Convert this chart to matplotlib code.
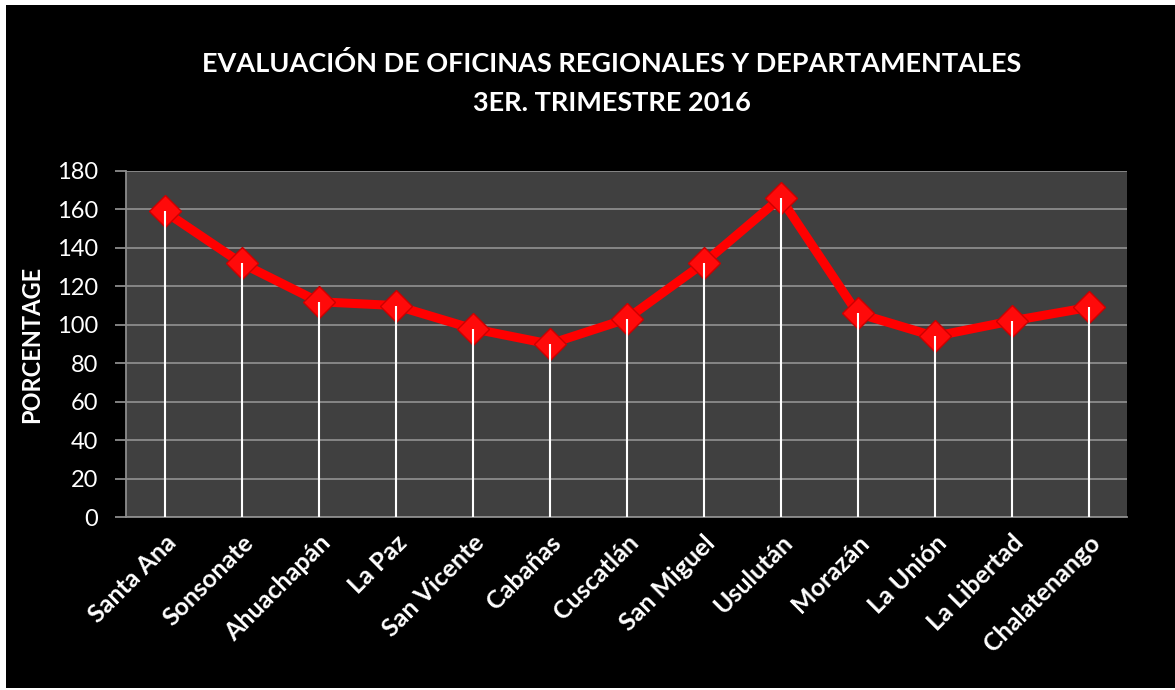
import matplotlib.pyplot as plt
from matplotlib.patches import Rectangle

oficinas = ["Santa Ana", "Sonsonate", "Ahuachapán", "La Paz", "San Vicente", "Cabañas",
            "Cuscatlán", "San Miguel", "Usulután", "Morazán", "La Unión", "La Libertad",
            "Chalatenango"]
porcentaje = [159, 132, 112, 110, 98, 90, 103, 132, 166, 106, 94, 102, 109]
yticks = [0, 20, 40, 60, 80, 100, 120, 140, 160, 180]

plt.rcParams['font.family'] = ['Lato', 'DejaVu Sans']

fig = plt.figure(figsize=(11.75, 6.9), dpi=100, facecolor="white")
# black chart area inside a thin white frame
fig.patches.append(Rectangle((6 / 1175, 2 / 690), 1169 / 1175, 683 / 690,
                             transform=fig.transFigure, facecolor="black",
                             edgecolor="none", zorder=-10))

ax = fig.add_axes([126 / 1175, 173 / 690, 1001 / 1175, 346 / 690])
ax.set_facecolor("#404040")

x = list(range(len(oficinas)))
ax.vlines(x, 0, porcentaje, color="white", linewidth=1.5, zorder=4)
ax.plot(x, porcentaje, color="#ff0000", linewidth=6.5, marker="D", markersize=16,
        markerfacecolor="#ff0a0a", markeredgecolor="#cc0000", markeredgewidth=1,
        zorder=3)

ax.set_xlim(-0.5, len(oficinas) - 0.5)
ax.set_ylim(0, 180)
ax.set_yticks(yticks)
ax.yaxis.grid(True, color="#8c8c8c", linewidth=1.3)
ax.set_axisbelow(True)

for side in ["top", "right"]:
    ax.spines[side].set_visible(False)
for side in ["left", "bottom"]:
    ax.spines[side].set_color("#8c8c8c")
    ax.spines[side].set_linewidth(1.3)

ax.tick_params(axis="y", colors="#8c8c8c", labelcolor="white", labelsize=17,
               length=8, width=1.3, pad=12)
ax.tick_params(axis="x", length=0, pad=10)
ax.set_xticks(x)
ax.set_xticklabels(oficinas, rotation=45, ha="right", rotation_mode="anchor",
                   color="white", fontsize=18, fontweight="bold")

ax.set_ylabel("PORCENTAGE", color="white", fontsize=17, fontweight="bold", labelpad=10)

fig.text(612 / 1175, 1 - 64 / 690, "EVALUACIÓN DE OFICINAS REGIONALES Y DEPARTAMENTALES",
         ha="center", va="center", color="white", fontsize=19.5, fontweight="bold")
fig.text(612 / 1175, 1 - 103 / 690, "3ER. TRIMESTRE 2016",
         ha="center", va="center", color="white", fontsize=19.5, fontweight="bold")

fig.savefig("out.png", dpi=100, facecolor=fig.get_facecolor())
